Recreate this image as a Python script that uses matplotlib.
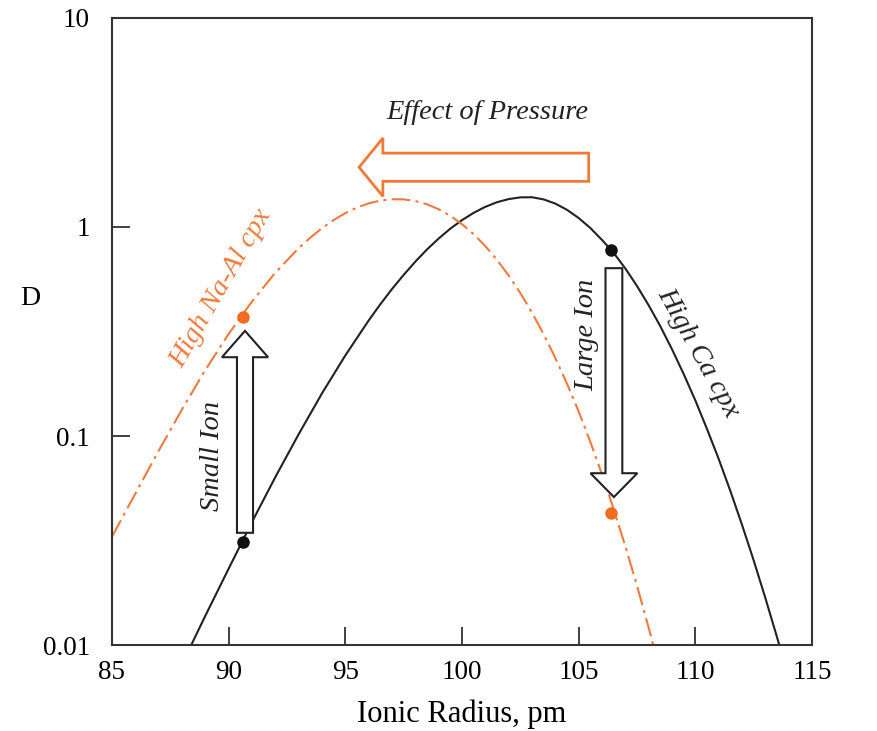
import matplotlib
matplotlib.use("Agg")
import matplotlib.pyplot as plt
import matplotlib.patches as mpatches

plt.rcParams["font.family"] = "Liberation Serif"
plt.rcParams["font.size"] = 19.5

# values
x_ca = [88, 89, 90, 91, 92, 93, 94, 95, 96, 96.5, 97, 97.5, 98, 98.5, 99, 99.5,
        100, 100.5, 101, 101.5, 102, 102.5, 103, 103.5, 104, 104.5, 105, 105.5,
        106, 106.5, 107, 107.5, 108, 108.5, 109, 109.5, 110, 110.5, 111, 111.5,
        112, 112.5, 113, 113.5, 114]
d_ca = [0.0081, 0.0138, 0.0232, 0.0388, 0.0636, 0.102, 0.160, 0.243, 0.357,
        0.427, 0.505, 0.590, 0.683, 0.781, 0.881, 0.982, 1.079, 1.169, 1.249,
        1.314, 1.360, 1.386, 1.388, 1.355, 1.294, 1.208, 1.104, 0.989, 0.867,
        0.752, 0.633, 0.522, 0.422, 0.335, 0.260, 0.198, 0.148, 0.108, 0.0777,
        0.0546, 0.0376, 0.0254, 0.0168, 0.0109, 0.0070]

x_naal = [85, 86, 87, 88, 89, 90, 91, 92, 93, 93.5, 94, 94.5, 95, 95.5, 96, 96.5,
          97, 97.5, 98, 98.5, 99, 99.5, 100, 100.5, 101, 101.5, 102, 102.5, 103,
          103.5, 104, 104.5, 105, 105.5, 106, 106.5, 107, 107.5, 108, 108.5]
d_naal = [0.0330, 0.0530, 0.0850, 0.134, 0.207, 0.308, 0.440, 0.605, 0.792,
          0.890, 0.987, 1.080, 1.165, 1.239, 1.297, 1.338, 1.358, 1.356, 1.331,
          1.284, 1.216, 1.131, 1.032, 0.924, 0.810, 0.696, 0.586, 0.483, 0.389,
          0.307, 0.236, 0.178, 0.131, 0.0937, 0.0656, 0.0447, 0.0297, 0.0192,
          0.0121, 0.0074]

ion_x = [90.6, 106.4]
ion_ca = [0.031, 0.78]
ion_naal = [0.37, 0.043]

orange = "#EE7B3D"
dot_orange = "#F26B21"

fig = plt.figure(figsize=(8.77, 7.31), dpi=100)
ax = fig.add_axes([0.1277, 0.1176, 0.7982, 0.8578])

ax.plot(x_ca, d_ca, color="#222222", lw=1.5)
ax.plot(x_naal, d_naal, color=orange, lw=1.5, linestyle=(0, (9, 2.5, 1.5, 2.5)))
ax.plot(ion_x, ion_ca, "o", color="#111111", ms=8, zorder=5)
ax.plot(ion_x, ion_naal, "o", color=dot_orange, ms=8, zorder=5)

ax.set_yscale("log")
ax.set_xlim(85, 115)
ax.set_ylim(0.01, 10)
ax.set_xticks([85, 90, 95, 100, 105, 110, 115])
ax.set_yticks([0.01, 0.1, 1, 10])
ax.set_yticklabels(["0.01", "0.1", "1", "10"])
ax.minorticks_off()
ax.tick_params(axis="both", direction="in", length=13, width=1.3, color="#333333")
ax.tick_params(axis="x", pad=11)
ax.tick_params(axis="y", pad=16)
for s in ax.spines.values():
    s.set_linewidth(1.5)
    s.set_color("#333333")

ax.set_xlabel("Ionic Radius, pm", fontsize=22, labelpad=10)
ax.set_ylabel("D", rotation=0, fontsize=20, va="center")
ax.yaxis.set_label_coords(-0.117, 0.553)

# hollow arrows, placed in axes fractions
tr = ax.transAxes
ax.add_patch(mpatches.FancyArrow(0.681, 0.762, -0.328, 0, width=0.045,
                                 head_width=0.093, head_length=0.034,
                                 length_includes_head=True, transform=tr,
                                 facecolor="white", edgecolor="#F07A35", lw=2, zorder=4))
ax.add_patch(mpatches.FancyArrow(0.19, 0.179, 0, 0.322, width=0.023,
                                 head_width=0.066, head_length=0.042,
                                 length_includes_head=True, transform=tr,
                                 facecolor="white", edgecolor="#222222", lw=1.5, zorder=4))
ax.add_patch(mpatches.FancyArrow(0.717, 0.601, 0, -0.365, width=0.024,
                                 head_width=0.067, head_length=0.038,
                                 length_includes_head=True, transform=tr,
                                 facecolor="white", edgecolor="#222222", lw=1.5, zorder=4))

fs = 20.5
ax.text(0.536, 0.85, "Effect of Pressure", style="italic", transform=tr,
        ha="center", va="center", color="#222222", fontsize=fs)
ax.text(0.156, 0.569, "High Na-Al cpx", style="italic", transform=tr,
        ha="center", va="center", rotation=60, color=orange, fontsize=fs)
ax.text(0.838, 0.466, "High Ca cpx", style="italic", transform=tr,
        ha="center", va="center", rotation=-61, color="#222222", fontsize=fs)
ax.text(0.144, 0.301, "Small Ion", style="italic", transform=tr,
        ha="center", va="center", rotation=90, color="#222222", fontsize=fs)
ax.text(0.678, 0.494, "Large Ion", style="italic", transform=tr,
        ha="center", va="center", rotation=90, color="#222222", fontsize=fs)

fig.savefig("out.png", dpi=100)
